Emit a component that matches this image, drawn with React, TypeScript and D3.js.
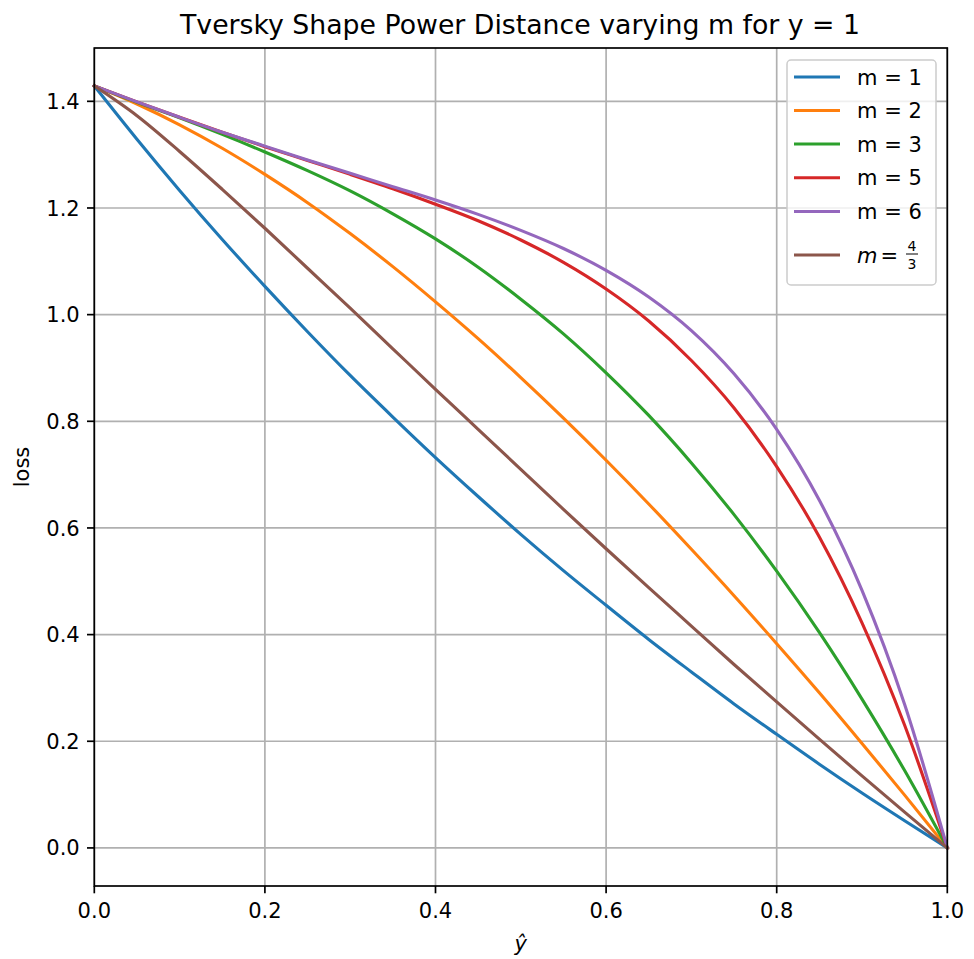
import React from "react";
import * as d3 from "d3";

// y-hat sample positions
const xs = [0, 0.05, 0.1, 0.15, 0.2, 0.25, 0.3, 0.35, 0.4, 0.45, 0.5, 0.55, 0.6, 0.65, 0.7, 0.75, 0.8, 0.85, 0.9, 0.95, 1.0];

// loss values
const lossM1 = [1.429, 1.329, 1.233, 1.141, 1.053, 0.968, 0.886, 0.808, 0.732, 0.659, 0.588, 0.520, 0.455, 0.391, 0.330, 0.270, 0.213, 0.157, 0.103, 0.051, 0];
const lossM2 = [1.429, 1.395, 1.356, 1.312, 1.263, 1.210, 1.152, 1.090, 1.024, 0.955, 0.882, 0.806, 0.727, 0.645, 0.560, 0.473, 0.383, 0.291, 0.196, 0.099, 0];
const lossM3 = [1.429, 1.398, 1.369, 1.338, 1.305, 1.270, 1.232, 1.189, 1.142, 1.089, 1.029, 0.964, 0.891, 0.811, 0.722, 0.625, 0.519, 0.404, 0.279, 0.145, 0];
const lossM5 = [1.429, 1.399, 1.370, 1.342, 1.315, 1.289, 1.263, 1.236, 1.207, 1.176, 1.140, 1.098, 1.048, 0.988, 0.914, 0.825, 0.715, 0.583, 0.422, 0.230, 0];
const lossM6 = [1.429, 1.399, 1.370, 1.342, 1.316, 1.290, 1.265, 1.240, 1.215, 1.188, 1.158, 1.124, 1.083, 1.033, 0.970, 0.889, 0.785, 0.652, 0.483, 0.269, 0];
const lossM43 = [1.429, 1.373, 1.306, 1.235, 1.162, 1.087, 1.012, 0.936, 0.860, 0.785, 0.710, 0.635, 0.561, 0.488, 0.416, 0.344, 0.274, 0.204, 0.135, 0.067, 0];

const seriesLabels = ["m = 1", "m = 2", "m = 3", "m = 5", "m = 6", "m = 4/3"];
const seriesValues = [lossM1, lossM2, lossM3, lossM5, lossM6, lossM43];
const seriesColors = ["#1f77b4", "#ff7f0e", "#2ca02c", "#d62728", "#9467bd", "#8c564b"];

const xTicks = [0, 0.2, 0.4, 0.6, 0.8, 1.0];
const yTicks = [0, 0.2, 0.4, 0.6, 0.8, 1.0, 1.2, 1.4];

const titleText = "Tversky Shape Power Distance varying m for y = 1";
const xLabel = "ŷ";
const yLabel = "loss";

export default function App() {
  const W = 974, H = 959;
  const left = 94.3, right = 947.3, top = 48, bottom = 886;
  const x = d3.scaleLinear().domain([0, 1]).range([left, right]);
  const y = d3.scaleLinear().domain([-0.0714, 1.5]).range([bottom, top]);
  const line = d3
    .line<number>()
    .x((_, i) => x(xs[i]))
    .y((d) => y(d))
    .curve(d3.curveMonotoneX);

  const font = "DejaVu Sans, sans-serif";
  const fs = 21;
  const gridColor = "#b0b0b0";

  const legX = 787, legY = 60, legW = 149, legH = 225;
  const rowY = [77, 110.5, 144, 177.7, 211.5];
  const lastRowY = 255;

  return (
    <svg
      width={W}
      height={H}
      style={{ position: "absolute", left: 0, top: 0, background: "#fff" }}
      fontFamily={font}
    >
      <rect x={0} y={0} width={W} height={H} fill="#fff" />
      {/* grid */}
      {xTicks.map((t) => (
        <line key={"gx" + t} x1={x(t)} x2={x(t)} y1={top} y2={bottom} stroke={gridColor} strokeWidth={1.7} />
      ))}
      {yTicks.map((t) => (
        <line key={"gy" + t} x1={left} x2={right} y1={y(t)} y2={y(t)} stroke={gridColor} strokeWidth={1.7} />
      ))}
      {/* series */}
      {seriesValues.map((vals, i) => (
        <path key={"s" + i} d={line(vals) || ""} fill="none" stroke={seriesColors[i]} strokeWidth={3.1} strokeLinejoin="round" strokeLinecap="square" />
      ))}
      {/* spines */}
      <rect x={left} y={top} width={right - left} height={bottom - top} fill="none" stroke="#000" strokeWidth={1.7} />
      {/* x ticks */}
      {xTicks.map((t) => (
        <g key={"xt" + t}>
          <line x1={x(t)} x2={x(t)} y1={bottom} y2={bottom + 7.3} stroke="#000" strokeWidth={1.7} />
          <text x={x(t)} y={bottom + 32} textAnchor="middle" fontSize={fs} fill="#000">
            {t.toFixed(1)}
          </text>
        </g>
      ))}
      {/* y ticks */}
      {yTicks.map((t) => (
        <g key={"yt" + t}>
          <line x1={left - 7.3} x2={left} y1={y(t)} y2={y(t)} stroke="#000" strokeWidth={1.7} />
          <text x={left - 14.6} y={y(t)} dy="0.36em" textAnchor="end" fontSize={fs} fill="#000">
            {t.toFixed(1)}
          </text>
        </g>
      ))}
      {/* title */}
      <text
        x={180}
        y={34}
        fontSize={27}
        textLength={680}
        lengthAdjust="spacingAndGlyphs"
        fill="#000"
      >
        {titleText}
      </text>
      {/* axis labels */}
      <text x={(left + right) / 2} y={951} textAnchor="middle" fontSize={fs} fontStyle="italic" fill="#000">
        {xLabel}
      </text>
      <text
        transform={`translate(${29},${(top + bottom) / 2}) rotate(-90)`}
        textAnchor="middle"
        fontSize={fs}
        fill="#000"
      >
        {yLabel}
      </text>
      {/* legend */}
      <rect x={legX} y={legY} width={legW} height={legH} rx={4} ry={4} fill="#fff" fillOpacity={0.8} stroke="#cccccc" strokeWidth={1.5} />
      {seriesLabels.slice(0, 5).map((lab, i) => (
        <g key={"lg" + i}>
          <line x1={794} x2={840} y1={rowY[i]} y2={rowY[i]} stroke={seriesColors[i]} strokeWidth={3.1} />
          <text x={857} y={rowY[i]} dy="0.36em" fontSize={fs} fill="#000">
            {lab}
          </text>
        </g>
      ))}
      <g>
        <line x1={794} x2={840} y1={lastRowY} y2={lastRowY} stroke={seriesColors[5]} strokeWidth={3.1} />
        <text x={857} y={lastRowY} dy="0.36em" fontSize={fs} fill="#000">
          <tspan fontStyle="italic">m</tspan>
          <tspan dx={3}>=</tspan>
        </text>
        <text x={912} y={251} textAnchor="middle" fontSize={14} fill="#000">4</text>
        <line x1={906} x2={918} y1={254} y2={254} stroke="#000" strokeWidth={1} />
        <text x={912} y={269} textAnchor="middle" fontSize={14} fill="#000">3</text>
      </g>
    </svg>
  );
}
